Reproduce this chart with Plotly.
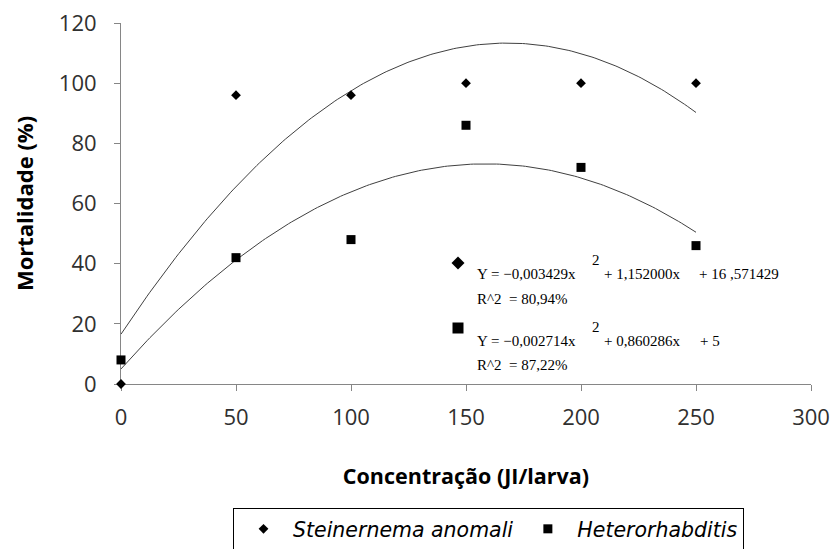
import numpy as np
import plotly.graph_objects as go

conc = [0, 50, 100, 150, 200, 250]
steinernema = [0, 96, 96, 100, 100, 100]
heterorhabditis = [8, 42, 48, 86, 72, 46]
coef_stein = [-0.003429, 1.152000, 16.571429]
coef_hetero = [-0.002714, 0.860286, 5.0]
x_ticks = [0, 50, 100, 150, 200, 250, 300]
y_ticks = [0, 20, 40, 60, 80, 100, 120]
names = ["Steinernema anomali", "Heterorhabditis"]

W, H = 834, 549
ML, MR, MT, MB = 121, 23, 23, 165
PW, PH = W - ML - MR, H - MT - MB

def px(x):
    return (x - ML) / PW

def py(y):
    return (H - MB - y) / PH

xc = np.linspace(0, 250, 200)
fig = go.Figure()
fig.add_trace(go.Scatter(x=xc, y=np.polyval(coef_stein, xc), mode="lines",
                         line=dict(color="#404040", width=1), showlegend=False, hoverinfo="skip"))
fig.add_trace(go.Scatter(x=xc, y=np.polyval(coef_hetero, xc), mode="lines",
                         line=dict(color="#404040", width=1), showlegend=False, hoverinfo="skip"))
fig.add_trace(go.Scatter(x=conc, y=steinernema, mode="markers", name=names[0],
                         marker=dict(symbol="diamond", size=7.5, color="black"), cliponaxis=False))
fig.add_trace(go.Scatter(x=conc, y=heterorhabditis, mode="markers", name=names[1],
                         marker=dict(symbol="square", size=9, color="black"), cliponaxis=False))

axis_font = dict(family="Open Sans", size=22, color="#303030")
fig.update_layout(
    width=W, height=H, margin=dict(l=ML, r=MR, t=MT, b=MB, autoexpand=False),
    paper_bgcolor="white", plot_bgcolor="white",
    xaxis=dict(range=[0, 300], tickvals=x_ticks, showgrid=False, zeroline=False,
               showline=True, linecolor="#868686", linewidth=1, ticks="outside",
               ticklen=6, tickcolor="#868686", tickfont=axis_font, ticklabelstandoff=8,
               layer="below traces",
               title=dict(text="<b>Concentração (JI/larva)</b>", standoff=38,
                          font=dict(family="Open Sans", size=21.5, color="black"))),
    yaxis=dict(range=[0, 120], tickvals=y_ticks, showgrid=False, zeroline=False,
               showline=True, linecolor="#868686", linewidth=1, ticks="outside",
               ticklen=6, tickcolor="#868686", tickfont=axis_font, ticklabelstandoff=13,
               layer="below traces",
               title=dict(text="<b>Mortalidade (%)</b>", standoff=19,
                          font=dict(family="Open Sans", size=22, color="black"))),
    legend=dict(orientation="h", x=px(233), y=py(508), xanchor="left", yanchor="top",
                bordercolor="black", borderwidth=1, itemwidth=49,
                font=dict(family="DejaVu Sans", size=20.5, color="black", style="italic")),
)

eq_font = dict(family="Liberation Serif", size=15, color="black")
pieces = [
    (475, 274, "Y = −0,003429x"),
    (590, 260, "2"),
    (602, 274, "+ 1,152000x"),
    (697, 274, "+ 16 ,571429"),
    (475, 299, "R^2  = 80,94%"),
    (475, 341, "Y = −0,002714x"),
    (590, 327, "2"),
    (602, 341, "+ 0,860286x"),
    (698, 341, "+ 5"),
    (475, 365, "R^2  = 87,22%"),
]
for x0, y0, t in pieces:
    fig.add_annotation(x=px(x0), y=py(y0), xref="paper", yref="paper",
                       text=t.replace("  ", "\u00a0\u00a0"),
                       showarrow=False, xanchor="left", yanchor="middle", font=eq_font)

# equation key symbols (diamond and square), sized in pixels
dcx, dcy, dr = 458, 263, 6.5
fig.add_shape(type="path", xref="paper", yref="paper",
              path=(f"M {px(dcx - dr)},{py(dcy)} L {px(dcx)},{py(dcy - dr)} "
                    f"L {px(dcx + dr)},{py(dcy)} L {px(dcx)},{py(dcy + dr)} Z"),
              fillcolor="black", line=dict(width=0))
scx, scy, sr = 458, 328, 5.5
fig.add_shape(type="rect", xref="paper", yref="paper",
              x0=px(scx - sr), x1=px(scx + sr), y0=py(scy + sr), y1=py(scy - sr),
              fillcolor="black", line=dict(width=0))

fig.write_html("out.html")
